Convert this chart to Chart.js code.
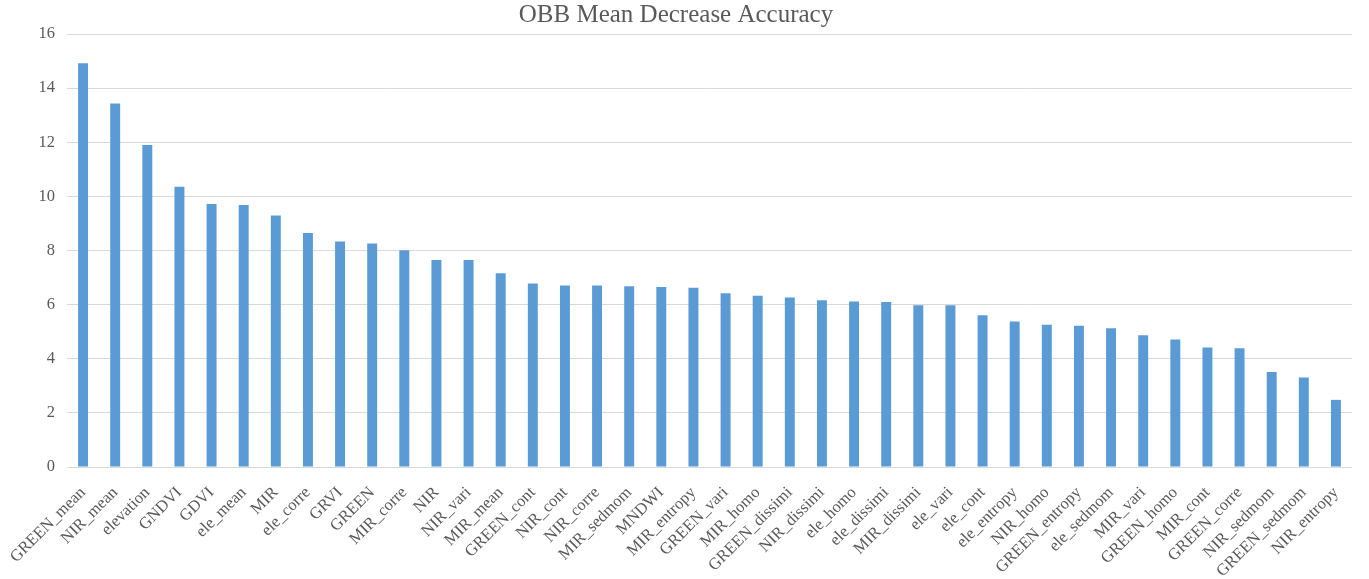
<!DOCTYPE html>
<html lang="en">
<head>
    <meta charset="UTF-8">
    <title>OBB Mean Decrease Accuracy</title>
    <script src="https://cdn.jsdelivr.net/npm/chart.js"></script>
</head>
<style>
    html, body {
        margin: 0;
        padding: 0;
        background: #ffffff;
    }
    .chart-box {
        position: relative;
        width: 1369px;
        height: 579px;
    }
</style>
<body>
    <div class="chart-box">
        <canvas id="mdaChart"></canvas>
    </div>
    <script>
        // Variable names along the x axis
        const features = [
            'GREEN_mean', 'NIR_mean', 'elevation', 'GNDVI', 'GDVI', 'ele_mean', 'MIR', 'ele_corre',
            'GRVI', 'GREEN', 'MIR_corre', 'NIR', 'NIR_vari', 'MIR_mean', 'GREEN_cont', 'NIR_cont',
            'NIR_corre', 'MIR_sedmom', 'MNDWI', 'MIR_entropy', 'GREEN_vari', 'MIR_homo', 'GREEN_dissimi', 'NIR_dissimi',
            'ele_homo', 'ele_dissimi', 'MIR_dissimi', 'ele_vari', 'ele_cont', 'ele_entropy', 'NIR_homo', 'GREEN_entropy',
            'ele_sedmom', 'MIR_vari', 'GREEN_homo', 'MIR_cont', 'GREEN_corre', 'NIR_sedmom', 'GREEN_sedmom', 'NIR_entropy'
        ];

        // Mean decrease accuracy values
        const accuracy = [
            14.92, 13.43, 11.90, 10.36, 9.72, 9.68, 9.29, 8.65,
            8.33, 8.26, 8.01, 7.65, 7.65, 7.16, 6.78, 6.71,
            6.71, 6.68, 6.65, 6.62, 6.42, 6.33, 6.26, 6.16,
            6.12, 6.10, 5.98, 5.98, 5.61, 5.38, 5.26, 5.22,
            5.13, 4.87, 4.71, 4.42, 4.39, 3.51, 3.31, 2.48
        ];

        // y axis ticks
        const yTicks = [0, 2, 4, 6, 8, 10, 12, 14, 16];

        const textColor = '#595959';
        const serif = '"Liberation Serif", "Times New Roman", serif';

        const ctx = document.getElementById('mdaChart').getContext('2d');
        const mdaChart = new Chart(ctx, {
            type: 'bar',
            data: {
                labels: features,
                datasets: [{
                    data: accuracy,
                    backgroundColor: '#5b9bd5',
                    borderWidth: 0,
                    barPercentage: 0.62,
                    categoryPercentage: 0.5
                }]
            },
            options: {
                responsive: true,
                maintainAspectRatio: false,
                animation: false,
                layout: { padding: { left: 0, right: 17, top: 0, bottom: 0 } },
                plugins: {
                    legend: { display: false },
                    tooltip: { enabled: false },
                    title: {
                        display: true,
                        text: 'OBB Mean Decrease Accuracy',
                        color: textColor,
                        font: { family: serif, size: 25, weight: 'normal' },
                        padding: { top: 0, bottom: 4 }
                    }
                },
                scales: {
                    x: {
                        grid: { display: false, drawTicks: false },
                        border: { display: false },
                        ticks: {
                            color: textColor,
                            font: { family: serif, size: 16.5 },
                            maxRotation: 45,
                            minRotation: 45,
                            autoSkip: false,
                            padding: 16
                        },
                        // keep the long first label from pushing the plot to the right
                        afterFit: s => { s.height = 112; s.paddingLeft = 0; s.paddingRight = 0; }
                    },
                    y: {
                        min: 0,
                        max: 16,
                        afterBuildTicks: s => { s.ticks = yTicks.map(v => ({ value: v })); },
                        grid: { color: '#d9d9d9', lineWidth: 1, drawTicks: false },
                        border: { display: false },
                        ticks: {
                            color: textColor,
                            font: { family: serif, size: 16.5 },
                            padding: 12
                        },
                        afterFit: s => { s.width = 67; }
                    }
                }
            }
        });
    </script>
</body>
</html>
